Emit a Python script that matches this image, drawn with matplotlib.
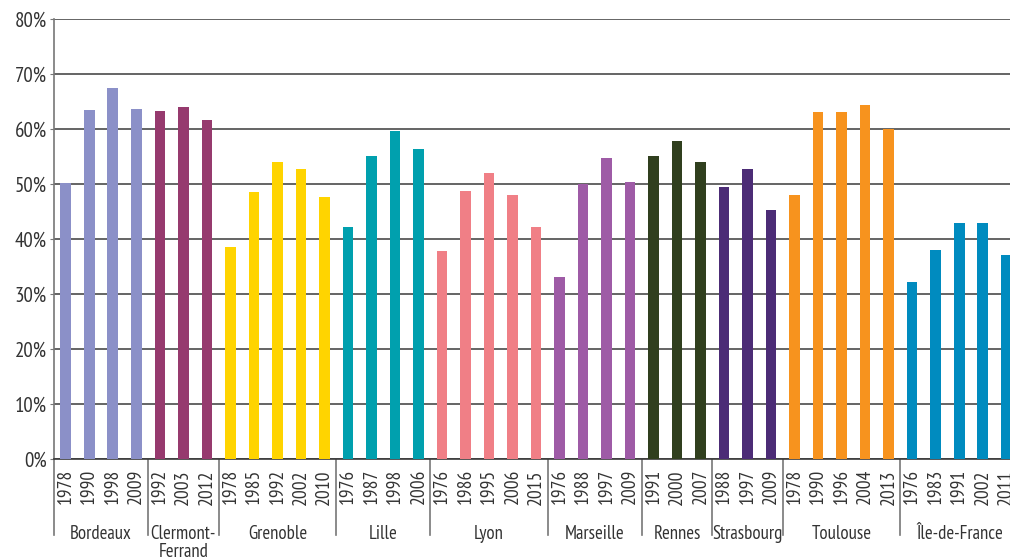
import matplotlib
matplotlib.use("Agg")
import matplotlib.pyplot as plt
import matplotlib.transforms as mtransforms

plt.rcParams['font.family'] = ['PT Sans Narrow', 'DejaVu Sans']

# data
cities = ['Bordeaux', 'Clermont-\nFerrand', 'Grenoble', 'Lille', 'Lyon',
          'Marseille', 'Rennes', 'Strasbourg', 'Toulouse', 'Île-de-France']
years = [
    ['1978', '1990', '1998', '2009'],
    ['1992', '2003', '2012'],
    ['1978', '1985', '1992', '2002', '2010'],
    ['1976', '1987', '1998', '2006'],
    ['1976', '1986', '1995', '2006', '2015'],
    ['1976', '1988', '1997', '2009'],
    ['1991', '2000', '2007'],
    ['1988', '1997', '2009'],
    ['1978', '1990', '1996', '2004', '2013'],
    ['1976', '1983', '1991', '2002', '2011'],
]
values = [
    [50.2, 63.5, 67.5, 63.6],
    [63.3, 64.0, 61.6],
    [38.5, 48.5, 54.0, 52.7, 47.6],
    [42.2, 55.1, 59.7, 56.4],
    [37.9, 48.8, 52.1, 48.1, 42.2],
    [33.1, 50.0, 54.8, 50.4],
    [55.1, 57.9, 54.1],
    [49.5, 52.8, 45.3],
    [48.1, 63.1, 63.1, 64.4, 60.0],
    [32.2, 38.0, 43.0, 43.0, 37.1],
]
colors = ['#8b90c8', '#963a6e', '#ffd400', '#00a0ae', '#f07f86',
          '#9e5ba6', '#303f1e', '#4c2c76', '#f7931e', '#008bbf']

fig = plt.figure(figsize=(10.10, 5.58), dpi=100)
ax = fig.add_axes([54 / 1010, 98.7 / 558, 964 / 1010, 440.3 / 558])

trans = mtransforms.blended_transform_factory(ax.transData, ax.transAxes)
pos = 0
xticks = []
xlabels = []
for city, yrs, vals, col in zip(cities, years, values, colors):
    xs = list(range(pos, pos + len(vals)))
    ax.bar(xs, vals, width=0.45, color=col, zorder=3)
    xticks += xs
    xlabels += yrs
    center = pos + (len(vals) - 1) / 2
    ax.text(center, -0.15, city, transform=trans, ha='center', va='top',
            fontsize=13.5, color='#333333', linespacing=0.95)
    # separator below the axis
    ax.plot([pos - 0.5, pos - 0.5], [0, -0.172], transform=trans,
            color='#777777', lw=1.2, clip_on=False)
    pos += len(vals)

ax.set_xlim(-0.5, pos - 0.5)
ax.set_ylim(0, 80)
ax.set_yticks(range(0, 81, 10))
ax.set_yticklabels(['{}%'.format(v) for v in range(0, 81, 10)])
ax.set_xticks(xticks)
ax.set_xticklabels(xlabels, rotation=90)

ax.tick_params(axis='y', labelsize=15, colors='#333333', length=3,
               color='#777777', pad=2)
ax.tick_params(axis='x', labelsize=14, colors='#333333', length=0, pad=7)

ax.grid(axis='y', color='#3a3a3a', lw=1.1, zorder=1)
for s in ['top', 'right']:
    ax.spines[s].set_visible(False)
ax.spines['left'].set_color('#777777')
ax.spines['left'].set_linewidth(1.2)
ax.spines['bottom'].set_color('#3a3a3a')
ax.spines['bottom'].set_linewidth(1.2)

fig.savefig('out.png', dpi=100)
